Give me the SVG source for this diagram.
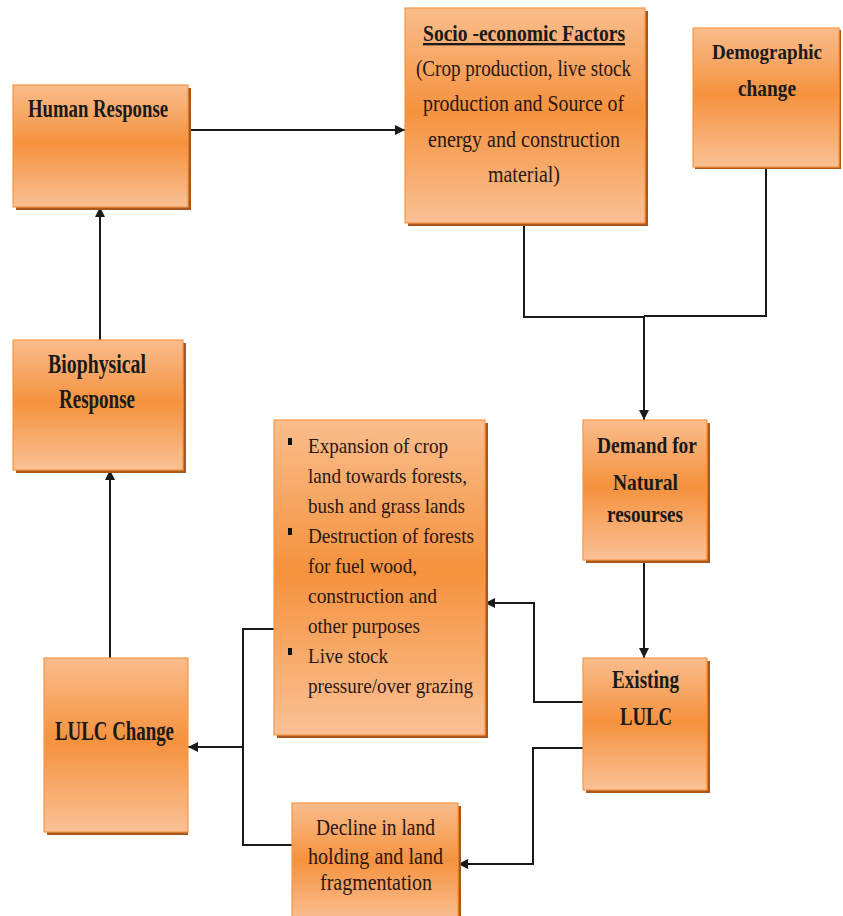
<svg xmlns="http://www.w3.org/2000/svg" width="843" height="916" viewBox="0 0 843 916">
<style>
.box{fill:url(#og);stroke:#F79646;stroke-width:1.2}
.sh{fill:#A9571A}
.t{font-family:"Liberation Serif","Times New Roman",serif;fill:#1a1a1a}
.b{font-weight:bold}
.r{fill:#2a1712}
.c{fill:none;stroke:#1a1a1a;stroke-width:2}
.a{marker-end:url(#ah)}
</style>
<defs>
<linearGradient id="og" x1="0" y1="0" x2="0" y2="1">
<stop offset="0" stop-color="#F9BD8D"/>
<stop offset="0.48" stop-color="#F5923E"/>
<stop offset="1" stop-color="#FAC196"/>
</linearGradient>
<marker id="ah" markerUnits="userSpaceOnUse" markerWidth="11" markerHeight="10" refX="10" refY="5" orient="auto">
<path d="M0,0 L10,5 L0,10 z" fill="#1a1a1a"/>
</marker>
</defs>
<rect width="843" height="916" fill="#ffffff"/>

<g id="connectors">
<path class="c a" d="M188,130 H405"/>
<path class="c a" d="M100,340 V207"/>
<path class="c a" d="M110,658 V470"/>
<path class="c" d="M524,223 V317 H644"/>
<path class="c" d="M766,167 V316 H644"/>
<path class="c a" d="M644,316 V420"/>
<path class="c a" d="M644,560 V658"/>
<path class="c a" d="M583,702 H534 V603 H485"/>
<path class="c a" d="M583,748 H533 V864 H458"/>
<path class="c" d="M274,629 H243 V845 H292"/>
<path class="c a" d="M243,747 H188"/>
</g>

<g id="human-response">
<rect class="sh" x="16" y="88" width="175" height="122"/>
<rect class="box" x="13" y="85" width="175" height="122"/>
<text class="t b" x="28" y="117" font-size="26" textLength="140" lengthAdjust="spacingAndGlyphs">Human Response</text>
</g>

<g id="socio-economic">
<rect class="sh" x="408" y="11" width="240" height="215"/>
<rect class="box" x="405" y="8" width="240" height="215"/>
<text class="t b" x="423" y="41" font-size="23" text-decoration="underline" textLength="202" lengthAdjust="spacingAndGlyphs">Socio -economic Factors</text>
<text class="t r" x="416" y="76" font-size="24" textLength="215" lengthAdjust="spacingAndGlyphs">(Crop production,  live stock</text>
<text class="t r" x="423" y="111" font-size="24" textLength="201" lengthAdjust="spacingAndGlyphs">production and Source of</text>
<text class="t r" x="428" y="147" font-size="24" textLength="192" lengthAdjust="spacingAndGlyphs">energy and construction</text>
<text class="t r" x="488" y="182" font-size="24" textLength="72" lengthAdjust="spacingAndGlyphs">material)</text>
</g>

<g id="demographic-change">
<rect class="sh" x="695" y="30" width="146" height="139"/>
<rect class="box" x="693" y="28" width="146" height="139"/>
<text class="t b" x="712" y="59" font-size="21.5" textLength="110" lengthAdjust="spacingAndGlyphs">Demographic</text>
<text class="t b" x="738" y="96" font-size="24" textLength="58" lengthAdjust="spacingAndGlyphs">change</text>
</g>

<g id="biophysical-response">
<rect class="sh" x="16" y="343" width="170" height="130"/>
<rect class="box" x="13" y="340" width="170" height="130"/>
<text class="t b" x="48" y="373" font-size="27" textLength="98" lengthAdjust="spacingAndGlyphs">Biophysical</text>
<text class="t b" x="59" y="408" font-size="27" textLength="76" lengthAdjust="spacingAndGlyphs">Response</text>
</g>

<g id="pressures">
<rect class="sh" x="277" y="423" width="211" height="315"/>
<rect class="box" x="274" y="420" width="211" height="315"/>
<rect x="288" y="438" width="4" height="7" fill="#111"/>
<rect x="288" y="528" width="4" height="7" fill="#111"/>
<rect x="288" y="648" width="4" height="7" fill="#111"/>
<text class="t r" x="308" y="453" font-size="21" textLength="140" lengthAdjust="spacingAndGlyphs">Expansion of crop</text>
<text class="t r" x="308" y="483" font-size="21" textLength="159" lengthAdjust="spacingAndGlyphs">land towards forests,</text>
<text class="t r" x="308" y="513" font-size="21" textLength="157" lengthAdjust="spacingAndGlyphs">bush and grass lands</text>
<text class="t r" x="308" y="543" font-size="21" textLength="166" lengthAdjust="spacingAndGlyphs">Destruction of forests</text>
<text class="t r" x="308" y="573" font-size="21" textLength="109" lengthAdjust="spacingAndGlyphs">for fuel wood,</text>
<text class="t r" x="308" y="603" font-size="21" textLength="129" lengthAdjust="spacingAndGlyphs">construction and</text>
<text class="t r" x="308" y="633" font-size="21" textLength="112" lengthAdjust="spacingAndGlyphs">other purposes</text>
<text class="t r" x="308" y="663" font-size="21" textLength="80" lengthAdjust="spacingAndGlyphs">Live stock</text>
<text class="t r" x="308" y="693" font-size="21" textLength="165" lengthAdjust="spacingAndGlyphs">pressure/over grazing</text>
</g>

<g id="demand">
<rect class="sh" x="586" y="423" width="124" height="140"/>
<rect class="box" x="583" y="420" width="124" height="140"/>
<text class="t b" x="597" y="453" font-size="24" textLength="100" lengthAdjust="spacingAndGlyphs">Demand for</text>
<text class="t b" x="613" y="490" font-size="24" textLength="65" lengthAdjust="spacingAndGlyphs">Natural</text>
<text class="t b" x="607" y="522" font-size="24" textLength="76" lengthAdjust="spacingAndGlyphs">resourses</text>
</g>

<g id="existing-lulc">
<rect class="sh" x="586" y="661" width="124" height="132"/>
<rect class="box" x="583" y="658" width="124" height="132"/>
<text class="t b" x="612" y="688" font-size="25" textLength="67" lengthAdjust="spacingAndGlyphs">Existing</text>
<text class="t b" x="620" y="725" font-size="25" textLength="52" lengthAdjust="spacingAndGlyphs">LULC</text>
</g>

<g id="lulc-change">
<rect class="sh" x="47" y="661" width="141" height="174"/>
<rect class="box" x="44" y="658" width="144" height="174"/>
<text class="t b" x="55" y="740" font-size="27" textLength="119" lengthAdjust="spacingAndGlyphs">LULC Change</text>
</g>

<g id="decline">
<rect class="sh" x="295" y="806" width="166" height="120"/>
<rect class="box" x="292" y="803" width="166" height="120"/>
<text class="t r" x="316" y="835" font-size="23" textLength="119" lengthAdjust="spacingAndGlyphs">Decline in land</text>
<text class="t r" x="308" y="864" font-size="23" textLength="135" lengthAdjust="spacingAndGlyphs">holding and land</text>
<text class="t r" x="320" y="890" font-size="23" textLength="112" lengthAdjust="spacingAndGlyphs">fragmentation</text>
</g>
</svg>
